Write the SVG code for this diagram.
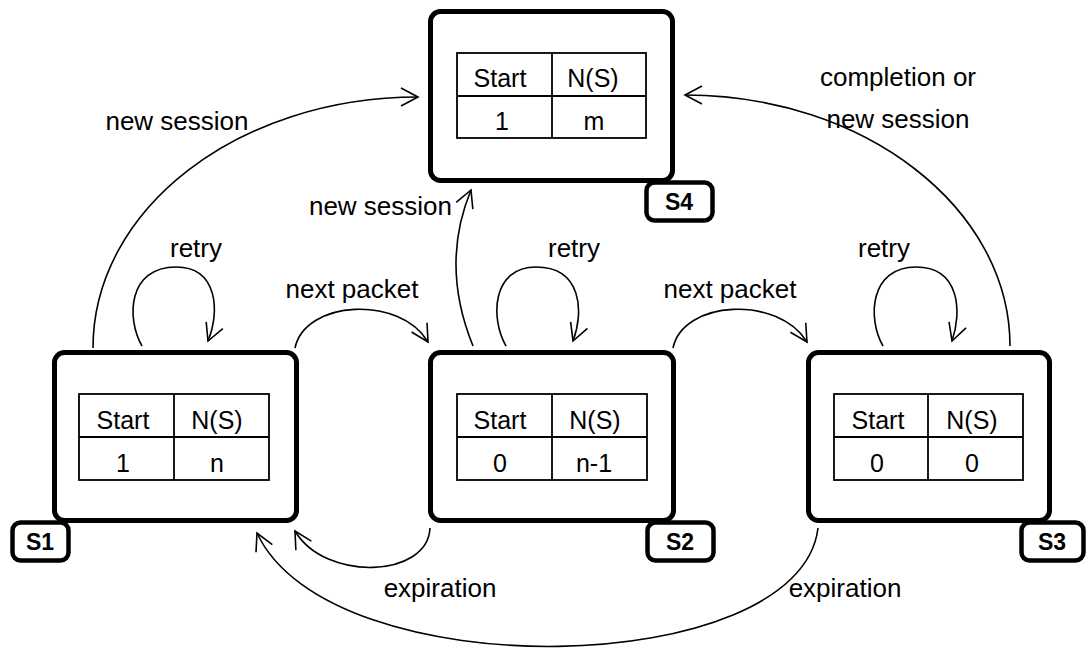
<svg xmlns="http://www.w3.org/2000/svg" width="1088" height="648" viewBox="0 0 1088 648">
  <defs>
    <marker id="arrow" markerUnits="userSpaceOnUse" viewBox="-20 -12 24 24" refX="0" refY="0" markerWidth="24" markerHeight="24" orient="auto">
      <path d="M-17,-9 L0,0 L-17,9" fill="none" stroke="#000" stroke-width="1.6"/>
    </marker>
  </defs>
  <style>
    text { font-family: "Liberation Sans", Arial, sans-serif; fill: #000; }
    .label { font-size: 26px; }
    .cell { font-size: 25px; text-anchor: middle; }
    .tag { font-size: 23px; font-weight: bold; text-anchor: middle; }
    .state { fill: #fff; stroke: #000; stroke-width: 5; }
    .tagbox { fill: #fff; stroke: #000; stroke-width: 4.5; }
    .grid { fill: none; stroke: #000; stroke-width: 1.8; }
    .edge { fill: none; stroke: #000; stroke-width: 1.6; marker-end: url(#arrow); }
  </style>

  <!-- transitions -->
  <g id="connectors">
    <!-- S1 -> S4 : new session -->
    <path class="edge" d="M93,348 C93,209 238,97 418,97"/>
    <!-- S3 -> S4 : completion or new session -->
    <path class="edge" d="M1010,346 C1010,208 864,95 685,95"/>
    <!-- S2 -> S4 : new session -->
    <path class="edge" d="M473,346 Q440,265 471,190"/>
    <!-- retry loops -->
    <path class="edge" d="M142,346 C126,318 128,267 176,267 C218,267 220,312 208,341"/>
    <path class="edge" d="M506,346 C490,318 492,267 536,267 C582,267 584,312 573,341"/>
    <path class="edge" d="M883,346 C867,318 870,267 916,267 C960,267 962,312 952,341"/>
    <!-- next packet -->
    <path class="edge" d="M295,348 C305,300 400,295 428,342"/>
    <path class="edge" d="M673,348 C683,300 778,295 807,342"/>
    <!-- expiration -->
    <path class="edge" d="M430,528 C428,578 325,582 295,531"/>
    <path class="edge" d="M818,528 C800,680 330,690 257,533"/>

    <text class="label" x="177" y="130" text-anchor="middle">new session</text>
    <text class="label" x="452" y="215" text-anchor="end">new session</text>
    <text class="label" x="898" y="86" text-anchor="middle">completion or</text>
    <text class="label" x="898" y="128" text-anchor="middle">new session</text>
    <text class="label" x="196" y="257" text-anchor="middle">retry</text>
    <text class="label" x="574" y="257" text-anchor="middle">retry</text>
    <text class="label" x="884" y="257" text-anchor="middle">retry</text>
    <text class="label" x="352" y="298" text-anchor="middle">next packet</text>
    <text class="label" x="730" y="298" text-anchor="middle">next packet</text>
    <text class="label" x="440" y="597" text-anchor="middle">expiration</text>
    <text class="label" x="845" y="597" text-anchor="middle">expiration</text>
  </g>

  <!-- S4 -->
  <g id="S4">
    <rect class="state" x="430.5" y="11.5" width="242" height="169" rx="10"/>
    <rect class="grid" x="457" y="53" width="189" height="85"/>
    <line class="grid" x1="457" y1="96" x2="646" y2="96"/>
    <line class="grid" x1="552" y1="53" x2="552" y2="138"/>
    <text class="cell" x="500" y="87">Start</text>
    <text class="cell" x="593" y="87">N(S)</text>
    <text class="cell" x="502" y="130">1</text>
    <text class="cell" x="594" y="130">m</text>
    <rect class="tagbox" x="646.5" y="182.5" width="66" height="38" rx="8"/>
    <text class="tag" x="679" y="210">S4</text>
  </g>

  <!-- S1 -->
  <g id="S1">
    <rect class="state" x="54.5" y="352.5" width="242" height="168" rx="10"/>
    <rect class="grid" x="79" y="394" width="190" height="86"/>
    <line class="grid" x1="79" y1="437" x2="269" y2="437"/>
    <line class="grid" x1="174" y1="394" x2="174" y2="480"/>
    <text class="cell" x="123" y="429">Start</text>
    <text class="cell" x="217" y="429">N(S)</text>
    <text class="cell" x="123" y="472">1</text>
    <text class="cell" x="217" y="472">n</text>
    <rect class="tagbox" x="12.5" y="522.5" width="56" height="38" rx="8"/>
    <text class="tag" x="40" y="550">S1</text>
  </g>

  <!-- S2 -->
  <g id="S2">
    <rect class="state" x="430.5" y="352.5" width="243" height="168" rx="10"/>
    <rect class="grid" x="457" y="394" width="190" height="86"/>
    <line class="grid" x1="457" y1="437" x2="647" y2="437"/>
    <line class="grid" x1="552" y1="394" x2="552" y2="480"/>
    <text class="cell" x="500" y="429">Start</text>
    <text class="cell" x="595" y="429">N(S)</text>
    <text class="cell" x="500" y="472">0</text>
    <text class="cell" x="594" y="472">n-1</text>
    <rect class="tagbox" x="647.5" y="522.5" width="66" height="38" rx="8"/>
    <text class="tag" x="680" y="550">S2</text>
  </g>

  <!-- S3 -->
  <g id="S3">
    <rect class="state" x="808.5" y="352.5" width="241" height="168" rx="10"/>
    <rect class="grid" x="834" y="394" width="189" height="86"/>
    <line class="grid" x1="834" y1="437" x2="1023" y2="437"/>
    <line class="grid" x1="928" y1="394" x2="928" y2="480"/>
    <text class="cell" x="878" y="429">Start</text>
    <text class="cell" x="972" y="429">N(S)</text>
    <text class="cell" x="877" y="472">0</text>
    <text class="cell" x="972" y="472">0</text>
    <rect class="tagbox" x="1021.5" y="522.5" width="62" height="38" rx="8"/>
    <text class="tag" x="1052" y="550">S3</text>
  </g>
</svg>
